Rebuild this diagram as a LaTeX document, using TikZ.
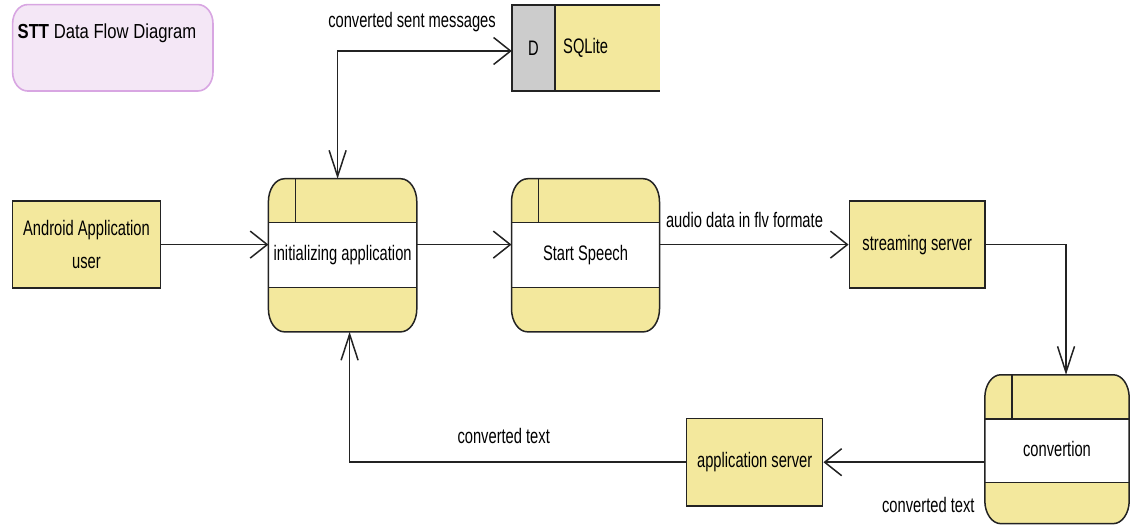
\documentclass[tikz,border=0pt]{standalone}
\usepackage{fontspec}
\setmainfont[FakeStretch=0.70]{Liberation Sans}
\newfontfamily\titlefont[FakeStretch=0.82]{Liberation Sans}
\usetikzlibrary{arrows.meta,calc}
\pgfdeclarelayer{background}
\pgfsetlayers{background,main}

\definecolor{dfdyellow}{RGB}{243,232,157}
\definecolor{dfdgray}{RGB}{204,204,204}
\definecolor{notefill}{RGB}{244,231,246}
\definecolor{noteline}{RGB}{216,166,226}
\definecolor{ink}{RGB}{35,35,35}

\tikzset{
  edge/.style={draw=ink, line width=1.5pt},
  entity/.style={edge, fill=dfdyellow, align=center},
  holder/.style={inner sep=0pt, align=center},
  flowlabel/.style={inner sep=0pt},
  htip/.tip={Straight Barb[length=17pt,width=27pt]},
  vtip/.tip={Straight Barb[length=26pt,width=17pt]},
  flow/.style={edge, line join=miter},
}

% outline with elliptical corners around a node: #1 node, #2 x radius, #3 y radius
\newcommand\ovaloutline[4]{%
  \path[#4] ([xshift=#2]#1.north west) -- ([xshift=-#2]#1.north east)
    arc[start angle=90,end angle=0,x radius=#2,y radius=#3]
    -- ([yshift=#3]#1.south east)
    arc[start angle=0,end angle=-90,x radius=#2,y radius=#3]
    -- ([xshift=#2]#1.south west)
    arc[start angle=270,end angle=180,x radius=#2,y radius=#3]
    -- ([yshift=-#3]#1.north west)
    arc[start angle=180,end angle=90,x radius=#2,y radius=#3] -- cycle;}

% process box: #1 node, #2 bottom band height
\newcommand\processbox[2]{%
  \begin{pgfonlayer}{background}
    \ovaloutline{#1}{16pt}{23pt}{fill=dfdyellow}
    \fill[white] ([yshift=-44pt]#1.north west) rectangle ([yshift=#2]#1.south east);
    \draw[edge] ([yshift=-44pt]#1.north west) -- ([yshift=-44pt]#1.north east);
    \draw[edge] ([yshift=#2]#1.south west) -- ([yshift=#2]#1.south east);
    \draw[edge] ([xshift=27pt]#1.north west) -- ([xshift=27pt,yshift=-44pt]#1.north west);
    \ovaloutline{#1}{16pt}{23pt}{edge}
  \end{pgfonlayer}}

\begin{document}
\begin{tikzpicture}[x=1pt, y=-1pt,
  every node/.append style={font=\fontsize{21}{33}\selectfont, text=black}]
\useasboundingbox (0,0) rectangle (1131,526);

% title note
\node[holder, minimum width=200, minimum height=86] (title) at (112.8,47.8) {};
\node[flowlabel, anchor=base west, font=\titlefont\fontsize{20.3}{24}\selectfont]
  (titletext) at (17.5,39) {\textbf{STT} Data Flow Diagram};
\begin{pgfonlayer}{background}
  \ovaloutline{title}{15pt}{19pt}{fill=notefill, draw=noteline, line width=1.6pt}
\end{pgfonlayer}

% data store
\node[holder, minimum width=148, minimum height=86] (db) at (586,48) {};
\node[flowlabel] (dbid) at (533.5,48) {D};
\node[flowlabel, anchor=west] (dbname) at (563,48) {SQLite};
\begin{pgfonlayer}{background}
  \fill[dfdgray] (db.north west) rectangle ([xshift=43pt]db.south west);
  \fill[dfdyellow] ([xshift=43pt]db.north west) rectangle (db.south east);
  \draw[edge] (db.north east) -- (db.north west) -- (db.south west) -- (db.south east);
  \draw[edge] ([xshift=43pt]db.north west) -- ([xshift=43pt]db.south west);
\end{pgfonlayer}

% external entities
\node[entity, minimum width=148.4, minimum height=87.3] (user) at (86.5,244.6)
  {Android Application\\user};
\node[entity, minimum width=135.7, minimum height=87.3] (stream) at (917.2,244.6)
  {streaming server};
\node[entity, minimum width=136, minimum height=87.7] (appsrv) at (754.7,462.2)
  {application server};

% processes
\node[holder, minimum width=148, minimum height=152.7] (init) at (342.6,255.3)
  {initializing application};
\processbox{init}{44.5pt}
\node[holder, minimum width=147.6, minimum height=152.7] (start) at (585.5,255.3)
  {Start Speech};
\processbox{start}{44.5pt}
\node[holder, minimum width=144, minimum height=148.5] (conv) at (1057,449.2)
  {convertion};
\processbox{conv}{41pt}

% data flows
\draw[flow, -{htip}] (user.east) -- (user.east -| init.west);
\draw[flow, -{htip}] (user.east -| init.east) -- (user.east -| start.west);
\draw[flow, -{htip}] (stream.west -| start.east) -- (stream.west);
\draw[flow, -{vtip}] (stream.east) -| ([xshift=9pt]conv.north);
\draw[flow, -{htip}] (conv.west |- appsrv.east) -- (appsrv.east);
\draw[flow, -{vtip}] (appsrv.west) -| ([xshift=7pt]init.south);
\draw[flow, {vtip}-{htip}] ([xshift=-5pt]init.north) |- ([yshift=-3pt]db.west);

% flow labels
\node[flowlabel] (lblsent) at (412,22) {converted sent messages};
\node[flowlabel] (lblaudio) at (744.5,219.5) {audio data in flv formate};
\node[flowlabel] (lbltext) at (503.7,436) {converted text};
\node[flowlabel] (lbltextb) at (928.3,505) {converted text};
\end{tikzpicture}
\end{document}
